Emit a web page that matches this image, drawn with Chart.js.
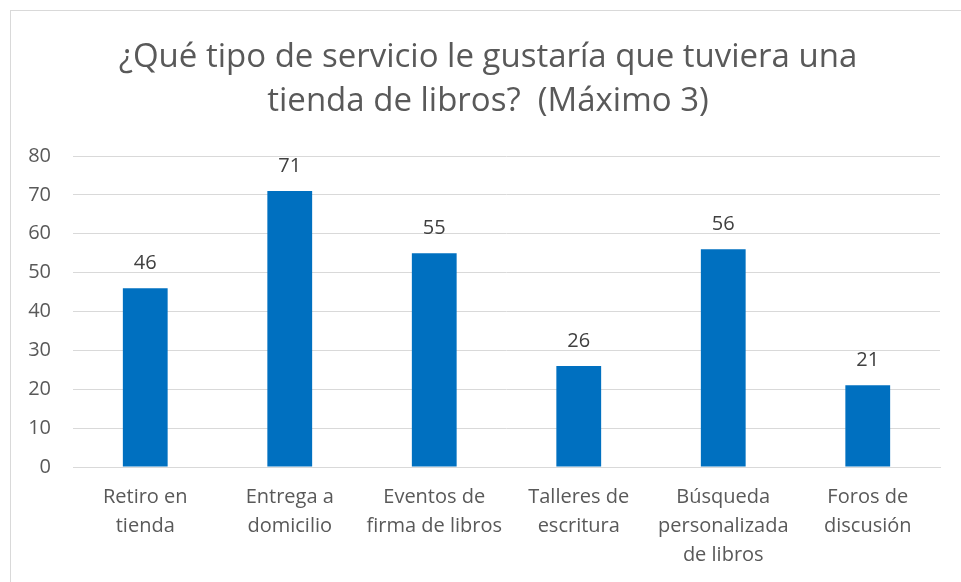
<!DOCTYPE html>
<html>
<head>
<meta charset="utf-8">
<script src="https://cdn.jsdelivr.net/npm/chart.js@4.4.0/dist/chart.umd.min.js"></script>
<style>
  html, body { margin: 0; padding: 0; background: #ffffff; }
  #wrap { position: relative; width: 961px; height: 582px; }
</style>
</head>
<body>
<div id="wrap"><canvas id="grafico" width="961" height="582"></canvas></div>
<script>
// datos
const categorias = [
  ["Retiro en", "tienda"],
  ["Entrega a", "domicilio"],
  ["Eventos de", "firma de libros"],
  ["Talleres de", "escritura"],
  ["Búsqueda", "personalizada", "de libros"],
  ["Foros de", "discusión"]
];
const respuestas = [46, 71, 55, 26, 56, 21];
const tituloLineas = ["¿Qué tipo de servicio le gustaría que tuviera una", "tienda de libros?  (Máximo 3)"];
const ticksY = [0, 10, 20, 30, 40, 50, 60, 70, 80];

const fuente = "'Open Sans', 'Noto Sans', sans-serif";

// marco, título y etiquetas de datos
const marcoYEtiquetas = {
  id: "marcoYEtiquetas",
  beforeDraw(chart) {
    const ctx = chart.ctx;
    ctx.save();
    ctx.strokeStyle = "#d9d9d9";
    ctx.lineWidth = 1;
    ctx.strokeRect(10.5, 10.5, 960, 580);

    // título centrado sobre el área del gráfico (como en Excel)
    ctx.font = "33px " + fuente;
    ctx.fillStyle = "#595959";
    ctx.textAlign = "center";
    ctx.textBaseline = "middle";
    ctx.fillText(tituloLineas[0], 488, 58);
    ctx.fillText(tituloLineas[1], 488, 102);
    ctx.restore();
  },
  afterDatasetsDraw(chart) {
    const ctx = chart.ctx;
    const meta = chart.getDatasetMeta(0);
    ctx.save();
    ctx.font = "20px " + fuente;
    ctx.fillStyle = "#404040";
    ctx.textAlign = "center";
    ctx.textBaseline = "middle";
    meta.data.forEach((bar, i) => {
      ctx.fillText(String(respuestas[i]), bar.x, bar.y - 25);
    });
    ctx.restore();
  }
};

new Chart(document.getElementById("grafico"), {
  type: "bar",
  data: {
    labels: categorias,
    datasets: [{
      data: respuestas,
      backgroundColor: "#0070C0",
      borderWidth: 0,
      categoryPercentage: 1,
      barPercentage: 0.31
    }]
  },
  options: {
    responsive: false,
    animation: false,
    layout: { padding: { top: 156, right: 21, left: 10, bottom: 0 } },
    plugins: {
      legend: { display: false },
      tooltip: { enabled: false },
      title: { display: false }
    },
    scales: {
      x: {
        afterFit(axis) { axis.height = 115; },
        grid: { display: false, drawTicks: false },
        border: { display: true, color: "#d9d9d9", width: 1 },
        ticks: {
          color: "#595959",
          font: { family: fuente, size: 20, lineHeight: 1.45 },
          padding: 16,
          maxRotation: 0,
          autoSkip: false
        }
      },
      y: {
        min: 0,
        max: 80,
        afterBuildTicks(axis) { axis.ticks = ticksY.map(v => ({ value: v })); },
        afterFit(axis) { axis.width = 63; },
        grid: { color: "#d9d9d9", drawTicks: false },
        border: { display: false },
        ticks: {
          color: "#595959",
          font: { family: fuente, size: 20 },
          padding: 22
        }
      }
    }
  },
  plugins: [marcoYEtiquetas]
});
</script>
</body>
</html>
